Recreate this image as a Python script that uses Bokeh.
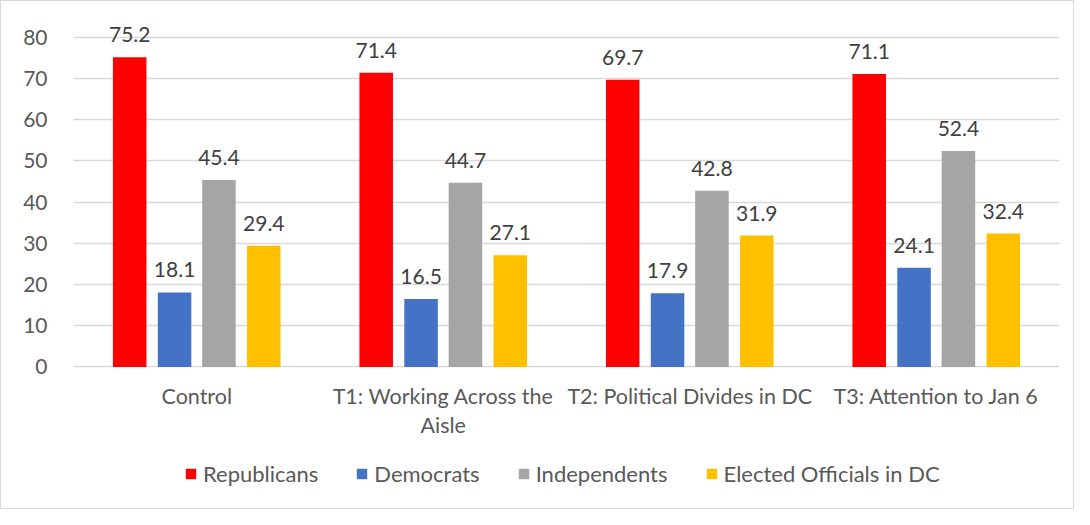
from bokeh.plotting import figure
from bokeh.models import ColumnDataSource, FactorRange, Range1d, Legend, LegendItem, FixedTicker
from bokeh.transform import dodge
from bokeh.core.properties import value
from bokeh.embed import file_html
from bokeh.resources import INLINE

categories = ["Control", "T1: Working Across the Aisle",
              "T2: Political Divides in DC", "T3: Attention to Jan 6"]
category_labels = ["Control", "T1: Working Across the\nAisle",
                   "T2: Political Divides in DC", "T3: Attention to Jan 6"]
series_names = ["Republicans", "Democrats", "Independents", "Elected Officials in DC"]
republicans = [75.2, 71.4, 69.7, 71.1]
democrats = [18.1, 16.5, 17.9, 24.1]
independents = [45.4, 44.7, 42.8, 52.4]
elected = [29.4, 27.1, 31.9, 32.4]
colors = ["#FF0000", "#4472C4", "#A5A5A5", "#FFC000"]
y_ticks = [0, 10, 20, 30, 40, 50, 60, 70, 80]

FONT = "Lato"

source = ColumnDataSource(dict(
    cat=categories, lab=category_labels, base=[0] * len(categories),
    rep=republicans, dem=democrats, ind=independents, ele=elected,
    rep_l=[f"{v:.1f}" for v in republicans],
    dem_l=[f"{v:.1f}" for v in democrats],
    ind_l=[f"{v:.1f}" for v in independents],
    ele_l=[f"{v:.1f}" for v in elected],
))

p = figure(width=1074, height=509, x_range=FactorRange(*categories),
           y_range=Range1d(-34.83, 88.71), output_backend="svg", toolbar_location=None,
           x_axis_location=None,
           min_border_left=72, min_border_right=16, min_border_top=0, min_border_bottom=0)
p.x_range.range_padding = 0
p.outline_line_color = None
p.styles = {"border": "1px solid #d9d9d9"}

offsets = [-0.272, -0.09, 0.09, 0.272]
cols = ["rep", "dem", "ind", "ele"]
items = []
for col, off, color, name in zip(cols, offsets, colors, series_names):
    r = p.vbar(x=dodge("cat", off, range=p.x_range), top=col, bottom=0, width=0.136,
               source=source, fill_color=color, line_color=None)
    p.text(x=dodge("cat", off, range=p.x_range), y=col, text=col + "_l", source=source,
           text_align="center", text_baseline="bottom", y_offset=-15,
           text_font=value(FONT), text_font_size="21px", text_color="#404040")
    items.append(LegendItem(label=name, renderers=[r]))

# category labels under the zero line
p.text(x="cat", y="base", text="lab", source=source, text_align="center",
       text_baseline="top", y_offset=16, text_line_height=1.1,
       text_font=value(FONT), text_font_size="21.5px", text_color="#595959")

legend = Legend(items=items, orientation="horizontal", location=(111, 23),
                glyph_width=13, glyph_height=13, label_standoff=6, spacing=37,
                label_height=20, padding=0, margin=0, border_line_color=None,
                background_fill_alpha=0,
                label_text_font=FONT, label_text_font_size="22px", label_text_color="#595959")
p.add_layout(legend, "center")

p.yaxis.ticker = FixedTicker(ticks=y_ticks)
p.yaxis.axis_line_color = None
p.yaxis.major_tick_line_color = None
p.yaxis.minor_tick_line_color = None
p.yaxis.major_label_standoff = 20
p.yaxis.major_label_text_font = FONT
p.yaxis.major_label_text_font_size = "21px"
p.yaxis.major_label_text_color = "#595959"

p.xgrid.grid_line_color = None
p.ygrid.ticker = FixedTicker(ticks=y_ticks)
p.ygrid.grid_line_color = "#d9d9d9"
p.ygrid.grid_line_width = 1.5

open("out.html", "w").write(file_html(p, INLINE))
